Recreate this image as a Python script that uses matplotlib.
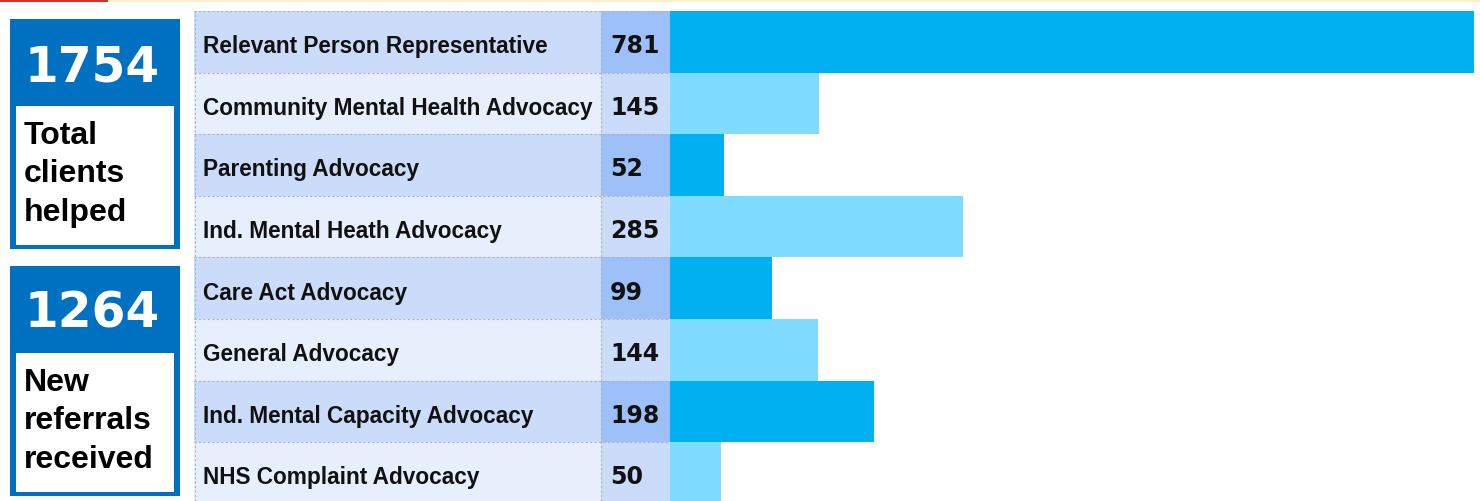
import matplotlib.pyplot as plt
from matplotlib.patches import Rectangle

services = ['Relevant Person Representative', 'Community Mental Health Advocacy',
            'Parenting Advocacy', 'Ind. Mental Heath Advocacy', 'Care Act Advocacy',
            'General Advocacy', 'Ind. Mental Capacity Advocacy', 'NHS Complaint Advocacy']
clients = [781, 145, 52, 285, 99, 144, 198, 50]
total_clients = 1754
new_referrals = 1264

W, H = 1480, 502
fig = plt.figure(figsize=(W / 100, H / 100), dpi=100)


def rect(x0, y0, x1, y1):
    return [x0 / W, 1 - y1 / H, (x1 - x0) / W, (y1 - y0) / H]


# frame layer in pixel coords
bg = fig.add_axes([0, 0, 1, 1])
bg.set_xlim(0, W)
bg.set_ylim(H, 0)
bg.axis('off')
bg.add_patch(Rectangle((0, 0), 108, 3, color='#d9302c', lw=0))
bg.add_patch(Rectangle((108, 0), W - 108, 3, color='#fdf0c8', lw=0))

blue = '#0070c0'
for y0, num, words in [(20, total_clients, ['Total', 'clients', 'helped']),
                       (267, new_referrals, ['New', 'referrals', 'received'])]:
    bg.add_patch(Rectangle((10, y0), 170, 230, color=blue, lw=0))
    bg.add_patch(Rectangle((16, y0 + 87), 158, 139, color='white', lw=0))
    bg.text(25, y0 + 61, str(num), color='white', fontsize=35, fontweight='heavy',
            family='DejaVu Sans', va='baseline', ha='left')
    for k, w in enumerate(words):
        bg.text(24, y0 + 124 + 38.5 * k, w, color='black', fontsize=23, fontweight='bold',
                family=['Liberation Sans', 'DejaVu Sans'], va='baseline', ha='left')

# table columns
ylim = (7.455, -0.5)
tab = fig.add_axes(rect(194, 12, 670, 502))
tab.set_xlim(0, 476)
tab.set_ylim(*ylim)
tab.axis('off')

lab_col = ['#cadcf9', '#e7effc']
val_col = ['#9ec0f8', '#cadcf9']
bar_col = ['#00b0f0', '#7fdbff']
grid = dict(color='#a9b3c4', lw=0.8, ls=(0, (2, 2)))

for i, (name, v) in enumerate(zip(services, clients)):
    tab.add_patch(Rectangle((0, i - 0.5), 407, 1, color=lab_col[i % 2], lw=0))
    tab.add_patch(Rectangle((407, i - 0.5), 69, 1, color=val_col[i % 2], lw=0))
    tab.text(9, i + 0.17, name, fontsize=16.3, fontweight='bold',
             family=['Liberation Sans', 'DejaVu Sans'], va='baseline', color='#111111')
    tab.text(416, i + 0.17, str(v), fontsize=17, fontweight='bold',
             family='DejaVu Sans', va='baseline', color='#111111')
    tab.axhline(i - 0.5, **grid)
tab.axvline(0.5, **grid)
tab.axvline(407, **grid)

ax = fig.add_axes(rect(670, 12, 1480, 502))
ax.barh(range(len(clients)), clients, height=1.0,
        color=[bar_col[i % 2] for i in range(len(clients))])
ax.set_xlim(0, 810 / 1.0294)
ax.set_ylim(*ylim)
ax.axis('off')

fig.savefig('out.png', dpi=100)
